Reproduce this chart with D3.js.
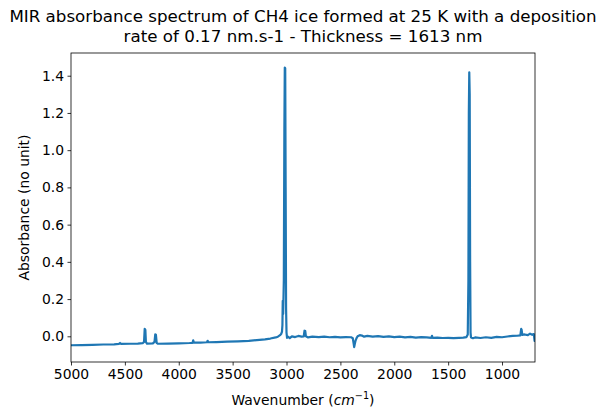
<!DOCTYPE html>
<html>
<head>
<meta charset="utf-8">
<script src="https://cdn.jsdelivr.net/npm/d3@7"></script>
<style>
  body { margin: 0; background: #fff; }
  text { font-family: "DejaVu Sans", sans-serif; fill: #000; }
</style>
</head>
<body>
<svg id="mysvg" xmlns="http://www.w3.org/2000/svg" width="604" height="420" viewBox="0 0 604 420"></svg>
<script>
// spectrum (wavenumber cm-1, absorbance)
const wavenumber = [
  5000, 4900, 4800, 4700, 4600, 4555, 4545, 4535, 4450, 4380, 4335, 4322, 4316, 4310, 4305, 4295,
  4240, 4225, 4218, 4212, 4205, 4195, 4100, 4000, 3900, 3872, 3866, 3860, 3800, 3738, 3732, 3726,
  3650, 3550, 3450, 3350, 3250, 3200, 3150, 3100, 3080, 3060, 3050, 3042, 3038, 3035, 3031, 3025,
  3020, 3016, 3012, 3008, 3004, 3000, 2995, 2985, 2970, 2950, 2920, 2890, 2860, 2840, 2833, 2826,
  2820, 2800, 2760, 2700, 2650, 2600, 2550, 2500, 2450, 2400, 2385, 2378, 2372, 2366, 2360, 2350,
  2340, 2320, 2300, 2280, 2250, 2200, 2150, 2100, 2050, 2000, 1950, 1900, 1850, 1800, 1750, 1700,
  1655, 1650, 1645, 1600, 1550, 1500, 1450, 1400, 1360, 1330, 1318, 1312, 1308, 1304, 1300, 1296,
  1292, 1288, 1270, 1250, 1200, 1150, 1100, 1050, 1000, 950, 900, 860, 830, 822, 818, 812,
  790, 760, 740, 720, 705, 698, 694
];
const absorbance = [
  -0.048, -0.047, -0.046, -0.044, -0.043, -0.041, -0.036, -0.041, -0.040, -0.039, -0.037, -0.030, 0.040, 0.035, -0.030, -0.039,
  -0.038, -0.030, 0.010, 0.008, -0.035, -0.040, -0.039, -0.038, -0.036, -0.035, -0.022, -0.034, -0.034, -0.032, -0.024, -0.032,
  -0.031, -0.029, -0.027, -0.024, -0.019, -0.016, -0.012, -0.006, -0.002, 0.006, 0.012, 0.025, 0.060, 0.190, 0.120, 0.300,
  1.100, 1.444, 1.440, 0.800, 0.150, 0.020, -0.008, -0.002, -0.010, 0.000, -0.004, 0.002, -0.002, 0.000, 0.030, 0.028,
  0.000, -0.006, -0.002, -0.004, -0.002, -0.005, -0.003, -0.006, -0.004, -0.005, -0.010, -0.035, -0.058, -0.040, -0.025, -0.010,
  0.000, 0.006, 0.004, -0.002, 0.002, -0.002, 0.001, -0.003, 0.000, -0.004, -0.002, -0.006, -0.003, -0.007, -0.004, -0.006,
  -0.008, 0.003, -0.008, -0.007, -0.009, -0.008, -0.010, -0.008, -0.007, -0.004, 0.010, 0.300, 1.200, 1.418, 1.300, 0.400,
  0.020, -0.006, -0.010, -0.006, -0.009, -0.005, -0.008, -0.003, -0.005, -0.001, 0.002, 0.003, 0.005, 0.040, 0.035, 0.008,
  0.010, 0.006, 0.014, 0.008, 0.012, -0.025, 0.010
];
const xTicks = [5000, 4500, 4000, 3500, 3000, 2500, 2000, 1500, 1000];
const yTicks = [0.0, 0.2, 0.4, 0.6, 0.8, 1.0, 1.2, 1.4];
const titleLines = [
  'MIR absorbance spectrum of CH4 ice formed at 25 K with a deposition',
  'rate of 0.17 nm.s-1 - Thickness = 1613 nm'
];

const svg = d3.select('#mysvg');
const plot = { left: 71, right: 535, top: 53, bottom: 362 };

const x = d3.scaleLinear().domain([5000, 694]).range([plot.left, plot.right]);
const y = d3.scaleLinear().domain([-0.138, 1.522]).range([plot.bottom, plot.top]);

const data = wavenumber.map((w, i) => ({ w: w, a: absorbance[i] }));

// spectrum line
svg.append('clipPath').attr('id', 'clip')
  .append('rect')
  .attr('x', plot.left).attr('y', plot.top)
  .attr('width', plot.right - plot.left).attr('height', plot.bottom - plot.top);

svg.append('path')
  .datum(data)
  .attr('clip-path', 'url(#clip)')
  .attr('fill', 'none')
  .attr('stroke', '#1f77b4')
  .attr('stroke-width', 2.2)
  .attr('stroke-linejoin', 'round')
  .attr('d', d3.line().x(d => x(d.w)).y(d => y(d.a)));

// axes
const xAxis = svg.append('g')
  .attr('transform', `translate(0,${plot.bottom})`)
  .call(d3.axisBottom(x).tickValues(xTicks).tickSize(3.5).tickPadding(3.5).tickFormat(d3.format('d')));

const yAxis = svg.append('g')
  .attr('transform', `translate(${plot.left},0)`)
  .call(d3.axisLeft(y).tickValues(yTicks).tickSize(3.5).tickPadding(3.5).tickFormat(d3.format('.1f')));

[xAxis, yAxis].forEach(g => {
  g.select('.domain').remove();
  g.selectAll('line').attr('stroke', '#000').attr('stroke-width', 0.8);
  g.selectAll('text').attr('font-size', 13.9).attr('font-family', '"DejaVu Sans", sans-serif').attr('fill', '#000');
});

// frame
svg.append('rect')
  .attr('x', plot.left).attr('y', plot.top)
  .attr('width', plot.right - plot.left).attr('height', plot.bottom - plot.top)
  .attr('fill', 'none').attr('stroke', '#000').attr('stroke-width', 0.8);

// title
svg.append('text')
  .attr('text-anchor', 'middle')
  .attr('font-size', 16.7)
  .selectAll('tspan')
  .data(titleLines)
  .join('tspan')
  .attr('x', (plot.left + plot.right) / 2 + 0)
  .attr('y', (d, i) => 22 + i * 20)
  .text(d => d);

// x label
const xl = svg.append('text')
  .attr('x', (plot.left + plot.right) / 2)
  .attr('y', 405)
  .attr('text-anchor', 'middle')
  .attr('font-size', 13.9);
xl.append('tspan').text('Wavenumber (');
xl.append('tspan').attr('font-style', 'italic').text('cm');
xl.append('tspan').attr('font-size', 9.7).attr('dy', -6).text('\u22121');
xl.append('tspan').attr('dy', 6).text(')');

// y label
svg.append('text')
  .attr('transform', `translate(29,${(plot.top + plot.bottom) / 2}) rotate(-90)`)
  .attr('text-anchor', 'middle')
  .attr('font-size', 13.9)
  .text('Absorbance (no unit)');
</script>
</body>
</html>
